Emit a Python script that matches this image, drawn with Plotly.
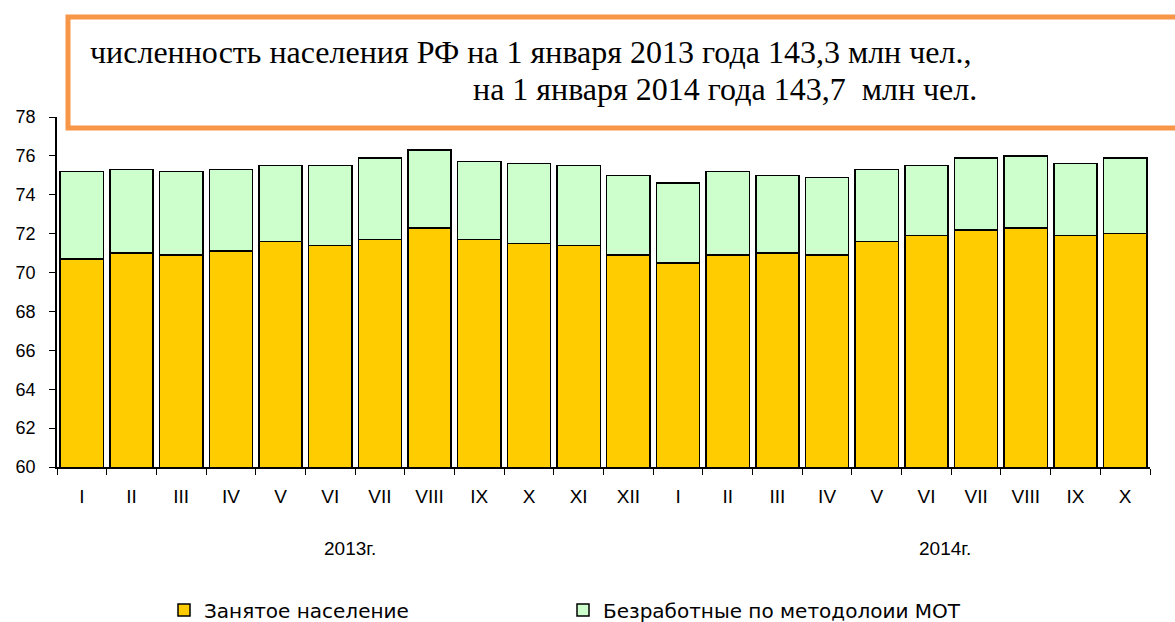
import plotly.graph_objects as go

months = ["I", "II", "III", "IV", "V", "VI", "VII", "VIII", "IX", "X", "XI", "XII",
          "I", "II", "III", "IV", "V", "VI", "VII", "VIII", "IX", "X"]
years = ["2013"] * 12 + ["2014"] * 10
employed = [70.7, 71.0, 70.9, 71.1, 71.6, 71.4, 71.7, 72.3, 71.7, 71.5, 71.4, 70.9,
            70.5, 70.9, 71.0, 70.9, 71.6, 71.9, 72.2, 72.3, 71.9, 72.0]
unemployed = [4.5, 4.3, 4.3, 4.2, 3.9, 4.1, 4.2, 4.0, 4.0, 4.1, 4.1, 4.1,
              4.1, 4.3, 4.0, 4.0, 3.7, 3.6, 3.7, 3.7, 3.7, 3.9]
y_ticks = [60, 62, 64, 66, 68, 70, 72, 74, 76, 78]
year_labels = ["2013г.", "2014г."]
name_employed = "Занятое население"
name_unemployed = "Безработные по методолоии МОТ"
title_line1 = "численность населения РФ на 1 января 2013 года 143,3 млн чел.,"
title_line2 = "на 1 января 2014 года 143,7  млн чел."

cats = [f"{m}-{y}" for m, y in zip(months, years)]

# Body margin is removed (post_script) so the figure fills the 1175x622 window;
# plot area at x 57..1150, y 117..467.
W, H = 1175, 622
L, T = 57, 117
PW, PH = 1093, 350
R, B = W - L - PW, H - T - PH


def px_x(p):
    return (p - 57) / PW


def px_y(p):
    return (467 - p) / PH


fig = go.Figure()
fig.add_trace(go.Bar(x=cats, y=employed, name=name_employed,
                     marker=dict(color="#FFCC00", line=dict(color="black", width=1.5))))
fig.add_trace(go.Bar(x=cats, y=unemployed, name=name_unemployed,
                     marker=dict(color="#CCFFCC", line=dict(color="black", width=1.5))))

fig.update_layout(
    width=W, height=H,
    margin=dict(l=L, r=R, t=T, b=B, autoexpand=False),
    barmode="stack", bargap=0.13,
    plot_bgcolor="white", paper_bgcolor="white",
    font=dict(family="Liberation Sans, Arial", size=18, color="black"),
    showlegend=True,
    legend=dict(orientation="h", x=px_x(164), y=px_y(610), xanchor="left", yanchor="middle",
                entrywidth=354, entrywidthmode="pixels",
                font=dict(size=20, family="DejaVu Sans"), traceorder="normal"),
)
fig.update_xaxes(type="category", tickmode="array", tickvals=cats, ticktext=months,
                 tickson="boundaries", ticks="outside", ticklen=6, tickcolor="black",
                 showline=True, linecolor="black", linewidth=1.5, showgrid=False,
                 tickfont=dict(size=19), ticklabelstandoff=11, range=[-0.5, 21.5])
fig.update_yaxes(range=[60, 78], tickvals=y_ticks, ticks="outside", ticklen=6,
                 tickcolor="black", showline=True, linecolor="black", linewidth=1.5,
                 showgrid=False, zeroline=False, tickfont=dict(size=18),
                 ticklabelstandoff=10)

fig.add_shape(type="rect", xref="paper", yref="paper",
              x0=px_x(68), x1=px_x(1400), y0=px_y(128), y1=px_y(17),
              line=dict(color="#F79646", width=5), fillcolor="white", layer="above")

fig.add_annotation(text=title_line1, xref="paper", yref="paper",
                   x=px_x(88), y=px_y(52), xanchor="left", yanchor="middle",
                   showarrow=False, font=dict(family="Liberation Serif, Times New Roman", size=32))
fig.add_annotation(text=title_line2, xref="paper", yref="paper",
                   x=px_x(979), y=px_y(89), xanchor="right", yanchor="middle",
                   showarrow=False, font=dict(family="Liberation Serif, Times New Roman", size=32))
for lbl, px in zip(year_labels, [350, 945]):
    fig.add_annotation(text=lbl, xref="paper", yref="paper",
                       x=px_x(px), y=px_y(548), xanchor="center", yanchor="middle",
                       showarrow=False, font=dict(size=19))

fig.write_html("out.html", config={"displayModeBar": False},
               post_script="document.body.style.margin='0';document.body.style.overflow='hidden';")
